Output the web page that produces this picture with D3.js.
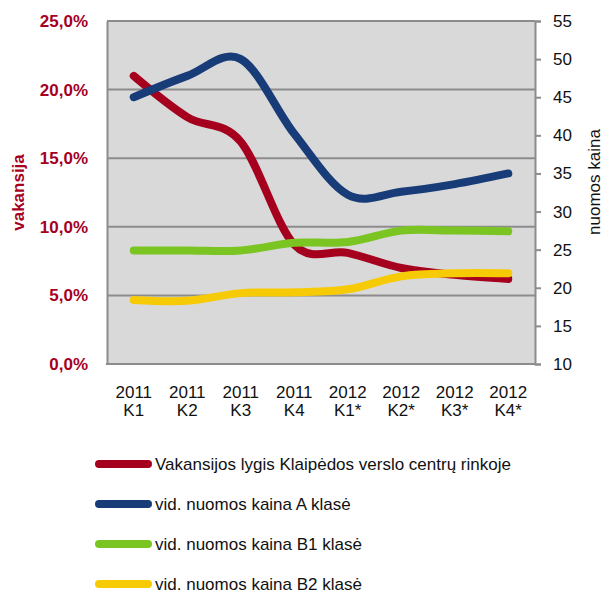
<!DOCTYPE html>
<html>
<head>
<meta charset="utf-8">
<script src="https://cdn.jsdelivr.net/npm/d3@7/dist/d3.min.js"></script>
<style>
  html, body { margin: 0; padding: 0; background: #fff; }
  svg { display: block; font-family: "Liberation Sans", Arial, sans-serif; }
</style>
</head>
<body>
<svg id="chart" width="603" height="593"></svg>
<script>
// ---- data ----
const years = ["2011", "2011", "2011", "2011", "2012", "2012", "2012", "2012"];
const quarters = ["K1", "K2", "K3", "K4", "K1*", "K2*", "K3*", "K4*"];
const vacancy = [21.0, 18.0, 16.2, 8.7, 8.1, 7.0, 6.5, 6.2];        // % (left axis)
const rentA   = [45.0, 47.8, 50.0, 40.2, 32.2, 32.6, 33.6, 35.0];   // right axis
const rentB1  = [24.9, 24.9, 24.9, 25.9, 26.0, 27.5, 27.5, 27.4];   // right axis
const rentB2  = [18.4, 18.3, 19.3, 19.4, 19.8, 21.5, 21.9, 21.9];   // right axis
const leftTicks = [0, 5, 10, 15, 20, 25];
const rightTicks = [10, 15, 20, 25, 30, 35, 40, 45, 50, 55];
const seriesNames = [
  "Vakansijos lygis Klaipėdos verslo centrų rinkoje",
  "vid. nuomos kaina A klasė",
  "vid. nuomos kaina B1 klasė",
  "vid. nuomos kaina B2 klasė"
];
const seriesColors = ["#a6001f", "#173c78", "#7ac522", "#f6cb05"];
const leftTitle = "vakansija";
const rightTitle = "nuomos kaina";

// ---- layout ----
const svg = d3.select("#chart");
const L = 107, R = 535, T = 21, B = 364;
const cats = quarters.map((q, i) => i);
const x = d3.scaleBand().domain(cats).range([L, R]);
const cx = i => x(i) + x.bandwidth() / 2;
const yL = d3.scaleLinear().domain([0, 25]).range([B, T]);
const yR = d3.scaleLinear().domain([10, 55]).range([B, T]);

// plot background
svg.append("rect").attr("x", L).attr("y", T).attr("width", R - L).attr("height", B - T)
  .attr("fill", "#d9d9d9");

// gridlines
svg.append("g").selectAll("line").data(leftTicks.filter(d => d > 0)).join("line")
  .attr("x1", L).attr("x2", R)
  .attr("y1", d => yL(d)).attr("y2", d => yL(d))
  .attr("stroke", "#8c8c8c").attr("stroke-width", 2);

// left axis
const fmt = d => d.toFixed(1).replace(".", ",") + "%";
const gL = svg.append("g").attr("transform", `translate(${L},0)`)
  .call(d3.axisLeft(yL).tickValues(leftTicks).tickSize(0).tickPadding(19).tickFormat(fmt));
gL.select(".domain").attr("stroke", "#8c8c8c").attr("stroke-width", 2);
gL.selectAll("text").attr("font-size", 17).attr("font-weight", "bold").attr("fill", "#a6001f")
  .attr("font-family", "Liberation Sans, Arial, sans-serif");

// right axis
const gR = svg.append("g").attr("transform", `translate(${R},0)`)
  .call(d3.axisRight(yR).tickValues(rightTicks).tickSize(6).tickPadding(12));
gR.select(".domain").attr("stroke", "#8c8c8c").attr("stroke-width", 2);
gR.selectAll(".tick line").attr("stroke", "#8c8c8c").attr("stroke-width", 2);
gR.selectAll("text").attr("font-size", 17).attr("fill", "#111")
  .attr("font-family", "Liberation Sans, Arial, sans-serif");

// bottom axis line
svg.append("line").attr("x1", L - 1).attr("x2", R + 1).attr("y1", B).attr("y2", B)
  .attr("stroke", "#8c8c8c").attr("stroke-width", 2);

// x labels
const xl = svg.append("g").selectAll("text").data(cats).join("text")
  .attr("text-anchor", "middle").attr("font-size", 17).attr("fill", "#111");
xl.append("tspan").attr("x", d => cx(d)).attr("y", 398).text(d => years[d]);
xl.append("tspan").attr("x", d => cx(d)).attr("y", 416).text(d => quarters[d]);

// lines
const lineL = d3.line().x((d, i) => cx(i)).y(d => yL(d)).curve(d3.curveCardinal.tension(0));
const lineR = d3.line().x((d, i) => cx(i)).y(d => yR(d)).curve(d3.curveCardinal.tension(0));
const series = [
  { v: vacancy, gen: lineL },
  { v: rentA, gen: lineR },
  { v: rentB1, gen: lineR },
  { v: rentB2, gen: lineR }
];
series.forEach((s, k) => {
  svg.append("path").attr("d", s.gen(s.v)).attr("fill", "none")
    .attr("stroke", seriesColors[k]).attr("stroke-width", 8)
    .attr("stroke-linecap", "round").attr("stroke-linejoin", "round");
});

// axis titles
svg.append("text").attr("transform", `translate(24,${(T + B) / 2}) rotate(-90)`)
  .attr("text-anchor", "middle").attr("font-size", 17).attr("font-weight", "bold")
  .attr("fill", "#a6001f").text(leftTitle);
svg.append("text").attr("transform", `translate(600,${182}) rotate(-90)`)
  .attr("text-anchor", "middle").attr("font-size", 17).attr("fill", "#111").text(rightTitle);

// legend
const lg = svg.append("g").selectAll("g").data(seriesNames).join("g")
  .attr("transform", (d, i) => `translate(0,${464 + i * 40})`);
lg.append("line").attr("x1", 99).attr("x2", 148).attr("y1", 0).attr("y2", 0)
  .attr("stroke", (d, i) => seriesColors[i]).attr("stroke-width", 8).attr("stroke-linecap", "round");
lg.append("text").attr("x", 155).attr("y", 6).attr("font-size", 17).attr("fill", "#111")
  .text(d => d);
</script>
</body>
</html>
